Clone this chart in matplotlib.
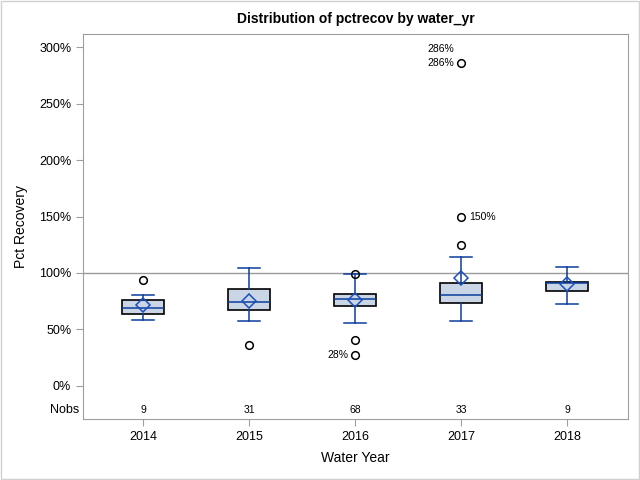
import matplotlib
matplotlib.use("Agg")
import matplotlib.pyplot as plt
from matplotlib.patches import Rectangle
from matplotlib.ticker import FuncFormatter

plt.rcParams['font.family'] = ['Liberation Sans', 'DejaVu Sans']

years = ['2014', '2015', '2016', '2017', '2018']
nobs = [9, 31, 68, 33, 9]
q1 = [63.3, 66.8, 70.3, 73.8, 83.6]
med = [68.6, 73.9, 76.5, 80.9, 90.9]
q3 = [76.0, 86.2, 81.8, 91.5, 92.4]
mean = [71.5, 75.0, 75.9, 95.9, 90.0]
whislo = [58.0, 57.1, 55.6, 57.1, 72.1]
whishi = [80.1, 104.7, 98.8, 114.4, 105.6]
outliers = [[93.4], [35.9], [99.4, 40.3, 27.1], [125.0, 150.0, 286.0], []]
labeled_outliers = [(2, 27.1, '28%', 'left'), (3, 150.0, '150%', 'right'),
                    (3, 286.0, '286%', 'left')]

blue = '#0B3D9C'
fill = '#CAD5E5'

fig = plt.figure(figsize=(6.4, 4.8), dpi=100)
ax = fig.add_axes([0.1297, 0.127, 0.8516, 0.802])

stats = []
for i in range(len(years)):
    stats.append(dict(q1=q1[i], med=med[i], q3=q3[i], mean=mean[i],
                      whislo=whislo[i], whishi=whishi[i], fliers=outliers[i]))

pos = list(range(len(years)))
ax.axhline(100, color='#9A9A9A', lw=1, zorder=1)
ax.bxp(stats, positions=pos, widths=0.4, patch_artist=True, showmeans=True,
       boxprops=dict(facecolor=fill, edgecolor='black', lw=1.2),
       medianprops=dict(color=blue, lw=1.1),
       whiskerprops=dict(color=blue, lw=1.1),
       capprops=dict(color=blue, lw=1.1),
       capwidths=0.2,
       meanprops=dict(marker='D', markerfacecolor='none', markeredgecolor='#1A4FC0',
                      markersize=7.5, markeredgewidth=1.1),
       flierprops=dict(marker='o', markerfacecolor='none', markeredgecolor='black',
                       markersize=5.5, markeredgewidth=1.1),
       zorder=3)

for (i, v, t, side) in labeled_outliers:
    if side == 'left':
        ax.annotate(t, (i, v), xytext=(-5, 0), textcoords='offset points',
                    ha='right', va='center', fontsize=7.5)
    else:
        ax.annotate(t, (i, v), xytext=(6, 0), textcoords='offset points',
                    ha='left', va='center', fontsize=7.5)
# second 286% label above
ax.annotate('286%', (3, 286.0), xytext=(-5, 10), textcoords='offset points',
            ha='right', va='center', fontsize=7.5)

for i, n in enumerate(nobs):
    ax.text(i, -21.5, str(n), ha='center', va='center', fontsize=7.5)
ax.text(-0.6, -21.5, 'Nobs', ha='right', va='center', fontsize=9)

ax.set_xlim(-0.566, 4.575)
ax.set_ylim(-29.5, 311.8)
ax.set_yticks([0, 50, 100, 150, 200, 250, 300])
ax.yaxis.set_major_formatter(FuncFormatter(lambda v, p: f'{v:.0f}%'))
ax.set_xticks(pos)
ax.set_xticklabels(years)

for s in ax.spines.values():
    s.set_color('#9AA0A6')
ax.tick_params(colors='#9AA0A6', labelcolor='black', labelsize=9, length=5)

ax.set_ylabel('Pct Recovery', fontsize=10, labelpad=8)
ax.set_xlabel('Water Year', fontsize=10, labelpad=6)
ax.set_title('Distribution of pctrecov by water_yr', fontsize=10, fontweight='bold', pad=8)

fig.add_artist(Rectangle((0.002, 0.002), 0.996, 0.996, transform=fig.transFigure,
                         fill=False, edgecolor='#D0D0D0', lw=1))

fig.savefig('out.png', dpi=100)
